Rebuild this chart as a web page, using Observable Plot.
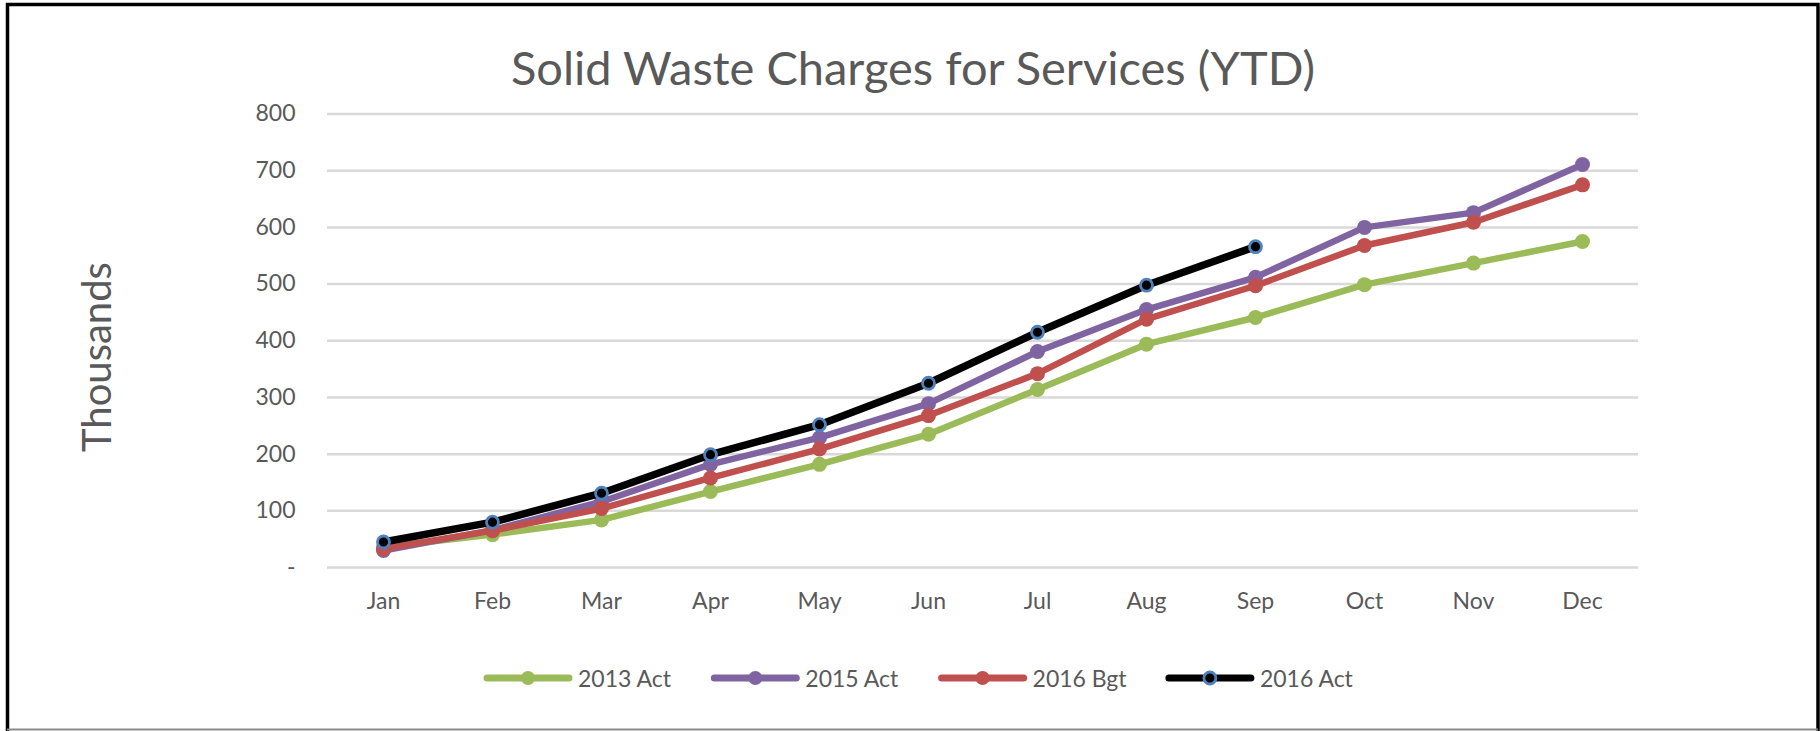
<!DOCTYPE html>
<html><head><meta charset="utf-8">
<script src="https://cdn.jsdelivr.net/npm/d3@7"></script>
<script src="https://cdn.jsdelivr.net/npm/@observablehq/plot@0.6"></script>
<style>
body{margin:0;background:#fff;}
#wrap{position:relative;width:1820px;height:731px;overflow:hidden;background:#fff;}
#wrap svg{position:absolute;left:0;top:0;}
</style></head><body><div id="wrap"></div>
<script>
const months = ["Jan","Feb","Mar","Apr","May","Jun","Jul","Aug","Sep","Oct","Nov","Dec"];
const act2013 = [36, 58, 84, 134, 182, 235, 314, 394, 441, 499, 537, 575];
const act2015 = [30, 66, 116, 182, 229, 289, 381, 455, 512, 600, 626, 711];
const bgt2016 = [33, 65, 104, 158, 209, 268, 342, 438, 497, 568, 609, 675];
const act2016 = [45, 80, 131, 199, 252, 325, 415, 498, 566];
const seriesNames = ["2013 Act", "2015 Act", "2016 Bgt", "2016 Act"];
const seriesColors = ["#9BBB59", "#8064A2", "#C0504D", "#000000"];
const yTicks = [0, 100, 200, 300, 400, 500, 600, 700, 800];
const titleText = "Solid Waste Charges for Services (YTD)";
const yLabel = "Thousands";

const FONT = "Lato, 'Open Sans', sans-serif";
const TEXT = "#595959";

const seriesValues = [act2013, act2015, bgt2016, act2016];
const seriesData = seriesValues.map((vals, i) =>
  vals.map((v, j) => ({series: seriesNames[i], month: months[j], value: v})));

const marks = [
  Plot.ruleY(yTicks, {stroke: "#D9D9D9", strokeWidth: 2.5})
];
seriesData.forEach((data, i) => {
  const isAct16 = i === 3;
  marks.push(Plot.line(data, {x: "month", y: "value", stroke: seriesColors[i],
    strokeWidth: isAct16 ? 7.5 : 6.5, strokeLinejoin: "round", strokeLinecap: "round"}));
  marks.push(Plot.dot(data, isAct16
    ? {x: "month", y: "value", r: 6, fill: "#000", stroke: "#4F81BD", strokeWidth: 2.8}
    : {x: "month", y: "value", r: 7.5, fill: seriesColors[i], stroke: "none"}));
});
marks.push(Plot.axisY({ticks: yTicks, tickFormat: d => d === 0 ? "-" : String(d),
  tickSize: 0, tickPadding: 32, fontSize: 23, fill: TEXT, label: null}));
marks.push(Plot.axisX({tickSize: 0, tickPadding: 25, fontSize: 23, fill: TEXT, label: null}));

const chart = Plot.plot({
  width: 1820, height: 731,
  marginLeft: 327, marginRight: 182, marginTop: 113.5, marginBottom: 164,
  x: {type: "point", domain: months, padding: 0.5, axis: null, label: null},
  y: {domain: [0, 800], axis: null, label: null},
  style: {fontFamily: FONT, color: TEXT, background: "transparent"},
  marks
});
document.getElementById("wrap").appendChild(chart);

// overlay: title, axis label, legend, frame
const ov = d3.select("#wrap").append("svg")
  .attr("width", 1820).attr("height", 731)
  .style("font-family", FONT).style("pointer-events", "none");

ov.append("text").attr("x", 913).attr("y", 85).attr("text-anchor", "middle")
  .attr("fill", TEXT).attr("font-size", 47).text(titleText);

ov.append("text").attr("transform", "translate(111,357) rotate(-90)")
  .attr("text-anchor", "middle").attr("fill", TEXT).attr("font-size", 40).text(yLabel);

const legX0 = 484, legStep = 227.3, legY = 678, lineLen = 88;
seriesNames.forEach((name, i) => {
  const g = ov.append("g").attr("transform", `translate(${legX0 + i * legStep},${legY})`);
  g.append("line").attr("x1", 3).attr("x2", lineLen - 3).attr("y1", 0).attr("y2", 0)
    .attr("stroke", seriesColors[i]).attr("stroke-width", 7).attr("stroke-linecap", "round");
  if (i === 3) {
    g.append("circle").attr("cx", lineLen / 2).attr("cy", 0).attr("r", 6)
      .attr("fill", "#000").attr("stroke", "#4F81BD").attr("stroke-width", 2.8);
  } else {
    g.append("circle").attr("cx", lineLen / 2).attr("cy", 0).attr("r", 7)
      .attr("fill", seriesColors[i]);
  }
  g.append("text").attr("x", lineLen + 6).attr("y", 8.5).attr("fill", TEXT)
    .attr("font-size", 23).text(name);
});

ov.append("path").attr("d", "M7.5,731V4.5H1818V731").attr("fill", "none")
  .attr("stroke", "#000").attr("stroke-width", 3.5);
ov.append("line").attr("x1", 7).attr("x2", 1818).attr("y1", 729.5).attr("y2", 729.5)
  .attr("stroke", "#8c8c8c").attr("stroke-width", 2);
</script></body></html>
